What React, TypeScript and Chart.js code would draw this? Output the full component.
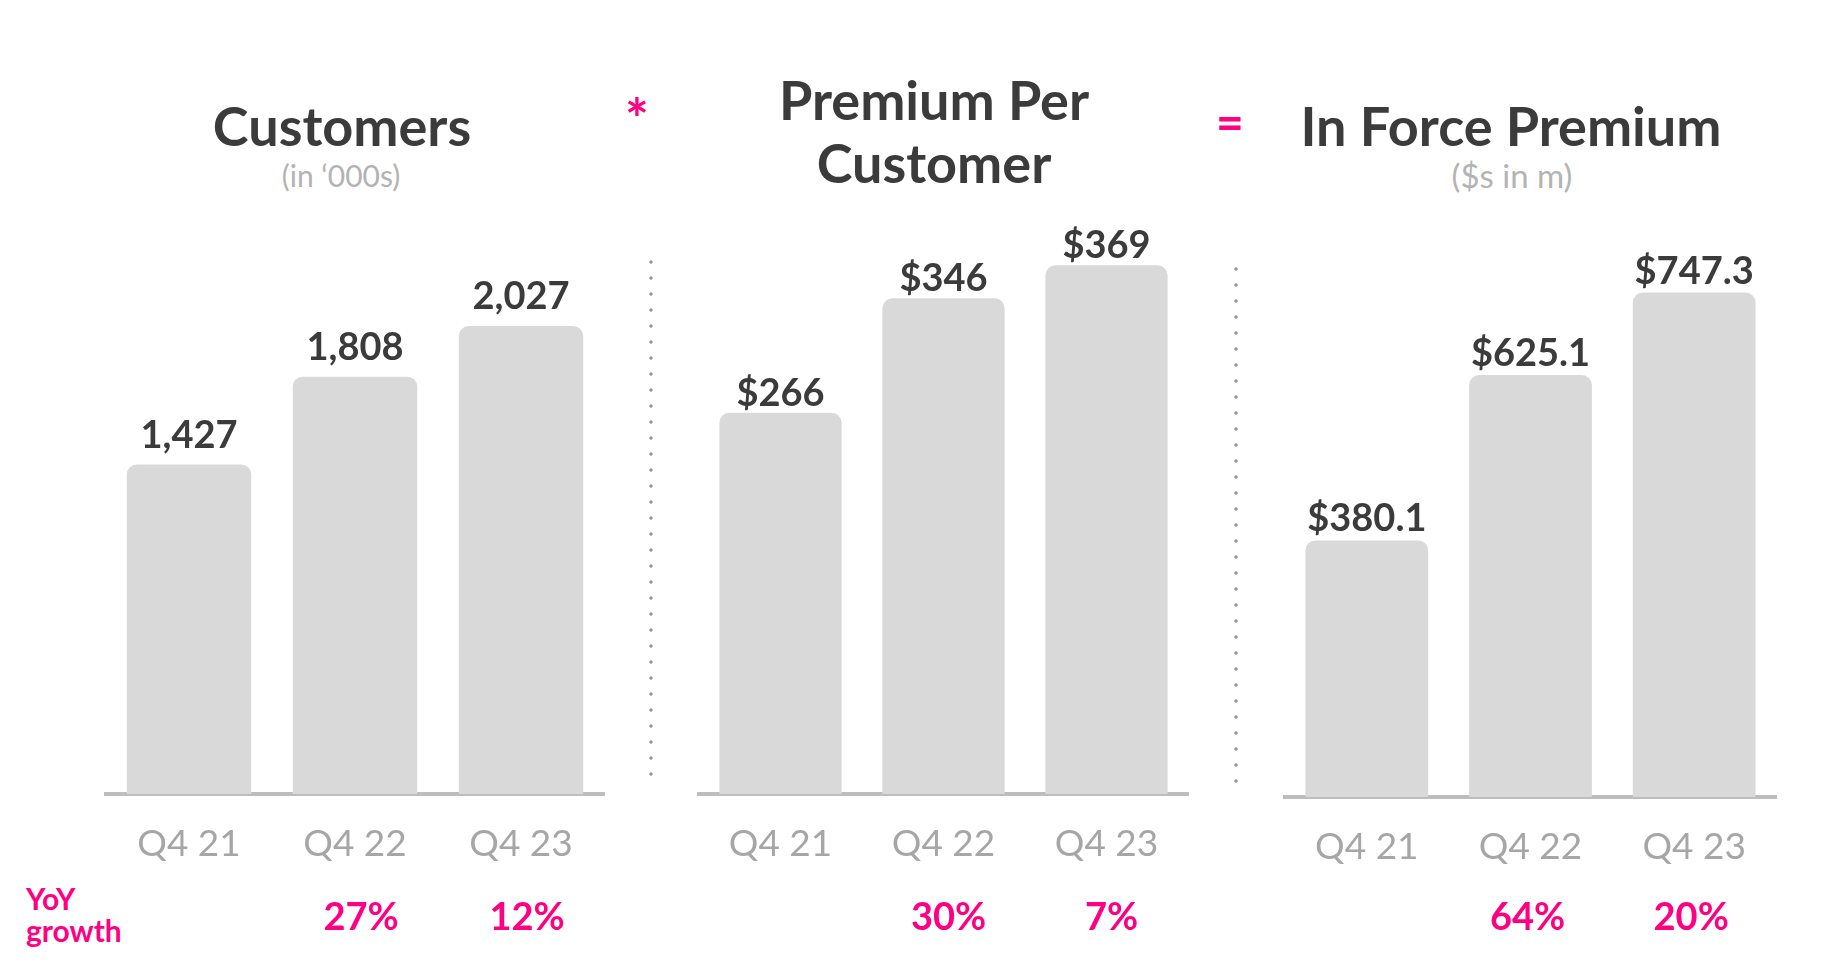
import React, { useEffect, useRef } from "react";
import { Chart, registerables } from "chart.js";

Chart.register(...registerables);

// ---- data ----
const categories = ["Q4 21", "Q4 22", "Q4 23"];
const customers = [1427, 1808, 2027];
const premiumPerCustomer = [266, 346, 369];
const inForcePremium = [380.1, 625.1, 747.3];
const customersGrowth = [null, 27, 12];
const premiumGrowth = [null, 30, 7];
const inForceGrowth = [null, 64, 20];

const PINK = "#ff0083";
const DARK = "#3b3b3b";
const TICK = "#a6a6a6";
const SUB = "#b3b3b3";
const BAR = "#d9d9d9";
const AXIS = "#bdbdbd";
const FONT = "Lato, 'Open Sans', sans-serif";

type PanelProps = {
  values: number[];
  format: (v: number) => string;
  growth: (number | null)[];
  yMax: number;
  left: number;
  top: number;
  width: number;
  height: number;
  padLeft: number;
  padRight: number;
  padTop: number;
  axisH: number;
  labelGap: number;
  growthBaseline: number; // page y
  growthDx: number;
};

function Panel(p: PanelProps) {
  const ref = useRef<HTMLCanvasElement | null>(null);
  useEffect(() => {
    const labelsPlugin = {
      id: "valueLabels",
      afterDatasetsDraw(chart: any) {
        const ctx = chart.ctx;
        const meta = chart.getDatasetMeta(0);
        ctx.save();
        ctx.textAlign = "center";
        ctx.textBaseline = "alphabetic";
        ctx.font = `bold 38px ${FONT}`;
        ctx.fillStyle = DARK;
        meta.data.forEach((bar: any, i: number) => {
          ctx.fillText(p.format(p.values[i]), bar.x, bar.y - p.labelGap);
        });
        ctx.font = `bold 38px ${FONT}`;
        ctx.fillStyle = PINK;
        const xs = chart.scales.x;
        p.growth.forEach((g, i) => {
          if (g === null) return;
          ctx.fillText(`${g}%`, xs.getPixelForValue(i) + p.growthDx, p.growthBaseline - p.top);
        });
        ctx.restore();
      },
    };
    const chart = new Chart(ref.current as HTMLCanvasElement, {
      type: "bar",
      data: {
        labels: categories,
        datasets: [
          {
            data: p.values,
            backgroundColor: BAR,
            borderRadius: 10,
            borderSkipped: "start",
            barPercentage: 0.75,
            categoryPercentage: 1,
          },
        ],
      },
      options: {
        responsive: false,
        animation: false,
        layout: { padding: { left: p.padLeft, right: p.padRight, top: p.padTop, bottom: 0 } },
        plugins: {
          legend: { display: false },
          tooltip: { enabled: false },
          title: { display: false },
        },
        scales: {
          x: {
            grid: { display: false, drawTicks: false },
            border: { display: true, color: AXIS, width: 4 },
            ticks: { color: TICK, font: { family: FONT, size: 37 }, padding: 28 },
            afterFit: (s: any) => {
              s.height = p.axisH;
            },
          },
          y: { display: false, min: 0, max: p.yMax },
        },
      } as any,
      plugins: [labelsPlugin],
    });
    return () => chart.destroy();
  }, []);
  return (
    <canvas
      ref={ref}
      width={p.width}
      height={p.height}
      style={{ position: "absolute", left: p.left, top: p.top, width: p.width, height: p.height }}
    />
  );
}

function Txt(props: {
  x: number;
  baseline: number;
  size: number;
  color: string;
  bold?: boolean;
  align?: "center" | "left";
  children: React.ReactNode;
}) {
  const top = props.baseline - 0.887 * props.size;
  const style: React.CSSProperties = {
    position: "absolute",
    top,
    left: props.x,
    transform: props.align === "left" ? undefined : "translateX(-50%)",
    fontFamily: FONT,
    fontSize: props.size,
    lineHeight: 1,
    fontWeight: props.bold ? 700 : 400,
    color: props.color,
    whiteSpace: "nowrap",
  };
  return <div style={style}>{props.children}</div>;
}

function Dots(props: { x: number; y1: number; y2: number }) {
  const n = Math.round((props.y2 - props.y1) / 16) + 1;
  return (
    <div
      style={{
        position: "absolute",
        left: props.x - 2,
        top: props.y1 - 8,
        width: 4,
        height: n * 16,
        backgroundImage: "radial-gradient(circle, #9a9a9a 1.4px, rgba(154,154,154,0) 1.9px)",
        backgroundSize: "4px 16px",
      }}
    />
  );
}

export default function App() {
  return (
    <div
      style={{
        position: "fixed",
        left: 0,
        top: 0,
        width: 1848,
        height: 974,
        background: "#ffffff",
        overflow: "hidden",
      }}
    >
      <Txt x={342} baseline={147} size={54} color={DARK} bold>
        Customers
      </Txt>
      <Txt x={341} baseline={187} size={30} color={SUB}>
        (in ‘000s)
      </Txt>
      <Txt x={637} baseline={140} size={56} color={PINK} bold>
        *
      </Txt>
      <Txt x={934} baseline={121} size={54} color={DARK} bold>
        Premium Per
      </Txt>
      <Txt x={934} baseline={184} size={54} color={DARK} bold>
        Customer
      </Txt>
      <Txt x={1230} baseline={141} size={48} color={PINK} bold>
        =
      </Txt>
      <Txt x={1511} baseline={147} size={54} color={DARK} bold>
        In Force Premium
      </Txt>
      <Txt x={1512} baseline={188} size={33} color={SUB}>
        ($s in m)
      </Txt>
      <Txt x={26} baseline={910} size={30} color={PINK} bold align="left">
        YoY
      </Txt>
      <Txt x={26} baseline={942} size={30} color={PINK} bold align="left">
        growth
      </Txt>

      <Dots x={651} y1={262} y2={774} />
      <Dots x={1236} y1={269} y2={782} />

      <Panel
        values={customers}
        format={(v) => v.toLocaleString("en-US")}
        growth={customersGrowth}
        yMax={2400}
        left={0}
        top={200}
        width={650}
        height={774}
        padLeft={106}
        padRight={46}
        padTop={40}
        axisH={180}
        labelGap={17}
        growthBaseline={930}
        growthDx={6}
      />
      <Panel
        values={premiumPerCustomer}
        format={(v) => "$" + v}
        growth={premiumGrowth}
        yMax={402}
        left={660}
        top={180}
        width={570}
        height={794}
        padLeft={39}
        padRight={42}
        padTop={38}
        axisH={180}
        labelGap={7}
        growthBaseline={930}
        growthDx={5}
      />
      <Panel
        values={inForcePremium}
        format={(v) => "$" + v}
        growth={inForceGrowth}
        yMax={800}
        left={1245}
        top={200}
        width={603}
        height={774}
        padLeft={40}
        padRight={72}
        padTop={57}
        axisH={177}
        labelGap={9}
        growthBaseline={930}
        growthDx={-3}
      />
    </div>
  );
}
